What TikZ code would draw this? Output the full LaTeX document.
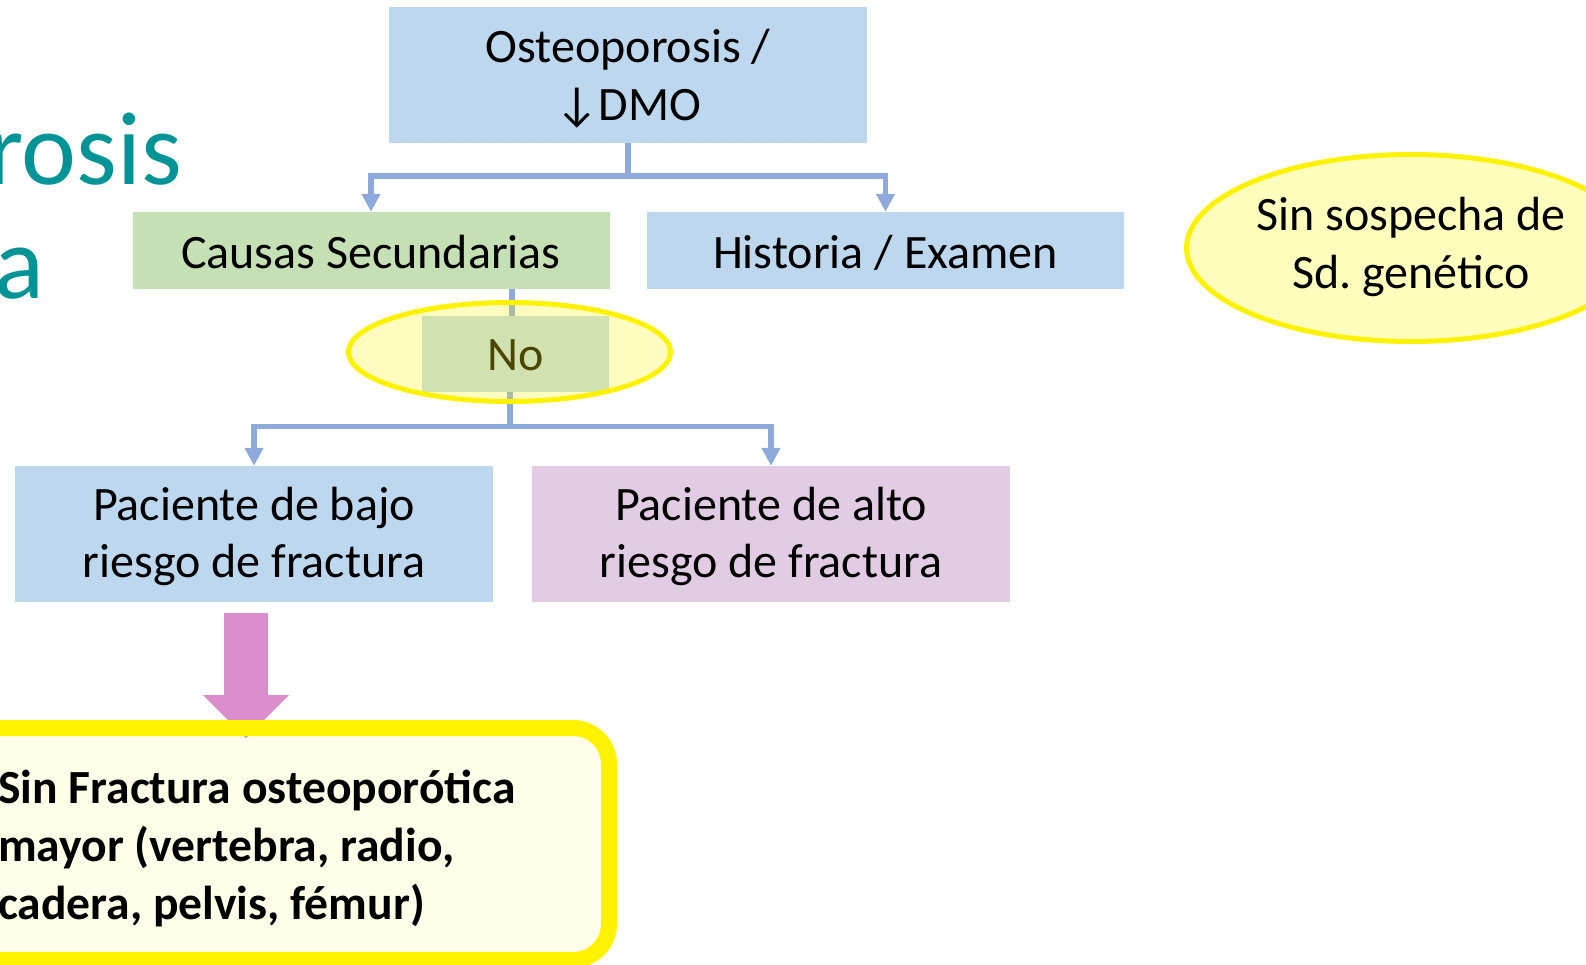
\documentclass[tikz,border=0pt]{standalone}
\usepackage{fontspec}
\setmainfont{Carlito}
\usetikzlibrary{shapes.geometric,arrows.meta}
\definecolor{boxblue}{HTML}{BDD7EE}
\definecolor{boxgreen}{HTML}{C5E0B4}
\definecolor{boxpink}{HTML}{E1CCE3}
\definecolor{conncol}{HTML}{8EA9DB}
\definecolor{arrowpink}{HTML}{DA8FCC}
\definecolor{titleteal}{RGB}{0,148,150}
\definecolor{nofill}{HTML}{D1E2B0}
\definecolor{notext}{HTML}{4A4600}
\definecolor{ellfill}{HTML}{FFFFBD}
\definecolor{notefill}{HTML}{FFFFE9}
\begin{document}
\begin{tikzpicture}[x=1pt,y=-1pt,
  box/.style={rectangle, inner sep=0pt, minimum width=478pt},
  boxtext/.style={inner sep=0pt, align=center, font=\fontsize{48}{57.5}\selectfont},
  conn/.style={draw=conncol, line width=5.5pt},
  connarrow/.style={conn, -{Triangle[width=18pt,length=18pt]}},
  hl/.style={draw=yellow, line width=5pt},
  ]
\useasboundingbox (0,0) rectangle (1586,964);

% title fragments
\node[anchor=base east, inner sep=0pt, text=titleteal, font=\fontsize{104}{110}\selectfont] (title1) at (182,184) {rosis};
\node[anchor=base east, inner sep=0pt, text=titleteal, font=\fontsize{104}{110}\selectfont] (title2) at (45,298) {a};

% boxes
\node[box, fill=boxblue, minimum height=136pt] (osteo) at (628,75) {};
\node[boxtext] (osteo-t) at ([yshift=-3.5pt]osteo.center) {Osteoporosis /\\↓DMO};
\node[box, fill=boxgreen, minimum width=477pt, minimum height=77pt] (causas) at (371,250.5) {};
\node[boxtext] (causas-t) at ([yshift=-2pt]causas.center) {Causas Secundarias};
\node[box, fill=boxblue, minimum width=477pt, minimum height=77pt] (hist) at (885.5,250.5) {};
\node[boxtext] (hist-t) at ([yshift=-2pt]hist.center) {Historia / Examen};
\node[box, fill=boxblue, minimum height=136pt] (bajo) at (254,534) {};
\node[boxtext] (bajo-t) at ([yshift=-2.5pt]bajo.center) {Paciente de bajo\\riesgo de fractura};
\node[box, fill=boxpink, minimum height=136pt] (alto) at (771,534) {};
\node[boxtext] (alto-t) at ([yshift=-2.5pt]alto.center) {Paciente de alto\\riesgo de fractura};

% junctions
\coordinate (j1) at (628,176);
\coordinate (j2) at (510,426.5);
\coordinate (nt) at (512,316);

% connectors
\draw[conn] (osteo.south) -- (j1);
\draw[connarrow] (j1) -| (causas.north);
\draw[connarrow] (j1) -| (hist.north);
\draw[conn] (nt) -- (nt |- causas.south);
\draw[conn] (j2 |- 0,392) -- (j2);
\draw[connarrow] (j2) -| (bajo.north);
\draw[connarrow] (j2) -| (alto.north);

% "No" highlighted
\node[ellipse, inner sep=0pt, minimum width=322pt, minimum height=99pt, fill=yellow, fill opacity=0.25] (noell) at (509.5,352) {};
\node[box, fill=nofill, minimum width=187pt, minimum height=76pt] (no) at (515.5,354) {};
\node[boxtext, text=notext] (no-t) at ([yshift=-1.5pt]no.center) {No};
\draw[hl] (noell.center) ellipse [x radius=161, y radius=49.5];

% Sin sospecha ellipse
\node[ellipse, inner sep=0pt, minimum width=449pt, minimum height=187pt, fill=ellfill, draw=yellow, line width=5pt] (sosp) at (1411,248) {};
\node[boxtext] (sosp-t) at ([yshift=1pt]sosp.center) {Sin sospecha de\\Sd.\ genético};

% bottom note box
\fill[notefill, rounded corners=36pt] (-40,728) rectangle (609,960);
\fill[arrowpink] (224,613) -- (268,613) -- (268,695) -- (289,695) -- (246,738) -- (203,695) -- (224,695) -- cycle;
\draw[yellow, line width=16pt, rounded corners=36pt] (-40,728) rectangle (609,960);
\node[anchor=base west, inner sep=0pt, font=\bfseries\fontsize{47.6}{58}\selectfont] (n1) at (-2,803) {Sin Fractura osteoporótica};
\node[anchor=base west, inner sep=0pt, font=\bfseries\fontsize{47.6}{58}\selectfont] (n2) at (-2,861) {mayor (vertebra, radio,};
\node[anchor=base west, inner sep=0pt, font=\bfseries\fontsize{47.6}{58}\selectfont] (n3) at (-2,919) {cadera, pelvis, fémur)};
\end{tikzpicture}
\end{document}
